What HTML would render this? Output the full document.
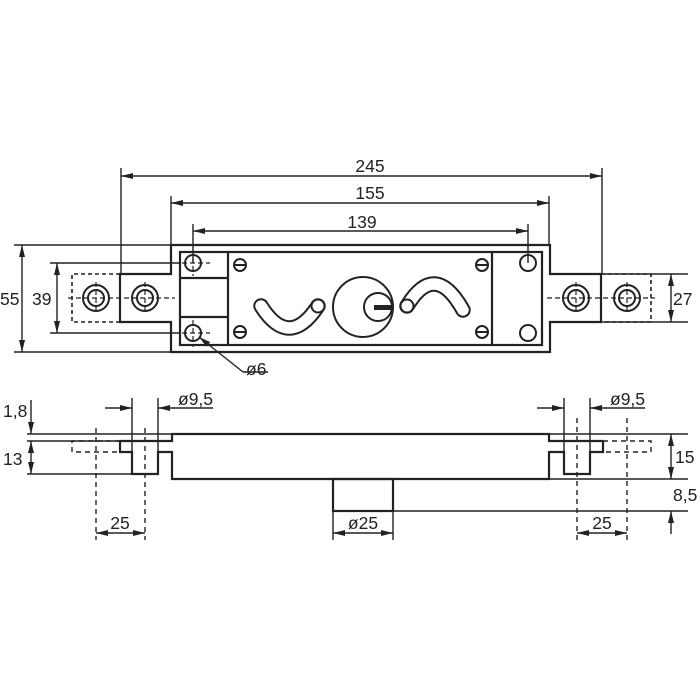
<!DOCTYPE html>
<html><head><style>body{margin:0;background:#fff}svg{display:block}</style></head><body>
<svg width="700" height="700" viewBox="0 0 700 700" xmlns="http://www.w3.org/2000/svg" font-family="Liberation Sans, sans-serif" font-size="17.5" fill="none" stroke="#222">
<defs>
<marker id="a" viewBox="0 0 12 6" refX="12" refY="3" markerWidth="12" markerHeight="6" orient="auto-start-reverse" markerUnits="userSpaceOnUse"><path d="M0,0L12,3L0,6z" fill="#222" stroke="none"/></marker>
</defs>
<g stroke-width="1.4">
<line x1="121" y1="168" x2="121" y2="274"/><line x1="602" y1="168" x2="602" y2="274"/>
<line x1="171" y1="196" x2="171" y2="245"/><line x1="549" y1="196" x2="549" y2="245"/>
<line x1="193" y1="224" x2="193" y2="263"/><line x1="528" y1="224" x2="528" y2="263"/>
<line x1="121" y1="176" x2="602" y2="176" marker-start="url(#a)" marker-end="url(#a)"/>
<line x1="171" y1="203" x2="549" y2="203" marker-start="url(#a)" marker-end="url(#a)"/>
<line x1="193" y1="231" x2="528" y2="231" marker-start="url(#a)" marker-end="url(#a)"/>
<line x1="14" y1="245" x2="171" y2="245"/><line x1="14" y1="352" x2="171" y2="352"/>
<line x1="50" y1="263" x2="180" y2="263"/><line x1="50" y1="333" x2="180" y2="333"/>
<line x1="22" y1="245" x2="22" y2="352" marker-start="url(#a)" marker-end="url(#a)"/>
<line x1="57" y1="263" x2="57" y2="333" marker-start="url(#a)" marker-end="url(#a)"/>
<line x1="601" y1="274" x2="688" y2="274"/><line x1="601" y1="322" x2="688" y2="322"/>
<line x1="671" y1="274" x2="671" y2="322" marker-start="url(#a)" marker-end="url(#a)"/>
</g>
<g fill="#222" stroke="none">
<text x="370" y="172" text-anchor="middle">245</text>
<text x="370" y="199" text-anchor="middle">155</text>
<text x="362" y="228" text-anchor="middle">139</text>
<text x="0" y="305">55</text>
<text x="32" y="305">39</text>
<text x="673" y="305">27</text>
<text x="246" y="375">ø6</text>
</g>
<g stroke-width="2.2">
<path d="M120,274H171V245H550V274H601V322H550V352H171V322H120Z"/>
<rect x="180" y="252" width="362" height="93"/>
<line x1="228" y1="252" x2="228" y2="345"/>
<line x1="180" y1="278" x2="228" y2="278"/><line x1="180" y1="317" x2="228" y2="317"/>
<line x1="492" y1="252" x2="492" y2="345"/>
</g>
<g stroke-width="1.6" stroke-dasharray="4,3">
<path d="M120,274H72V322H120"/><path d="M601,274H651V322H601"/>
</g>
<g stroke-width="1.2" stroke-dasharray="5,3">
<line x1="68" y1="298" x2="175" y2="298"/><line x1="547" y1="298" x2="655" y2="298"/>
<line x1="182" y1="263" x2="210" y2="263"/><line x1="182" y1="333" x2="210" y2="333"/>
<line x1="193" y1="250" x2="193" y2="276"/><line x1="193" y1="320" x2="193" y2="347"/>
<line x1="96" y1="282" x2="96" y2="314"/><line x1="145" y1="282" x2="145" y2="314"/>
<line x1="576" y1="282" x2="576" y2="314"/><line x1="627" y1="282" x2="627" y2="314"/>
</g>
<g stroke-width="2">
<circle cx="96" cy="298" r="13"/><circle cx="96" cy="298" r="8"/>
<circle cx="145" cy="298" r="13"/><circle cx="145" cy="298" r="8"/>
<circle cx="576" cy="298" r="13"/><circle cx="576" cy="298" r="8"/>
<circle cx="627" cy="298" r="13"/><circle cx="627" cy="298" r="8"/>
<circle cx="193" cy="263" r="8"/><circle cx="193" cy="333" r="8"/>
<circle cx="528" cy="263" r="8"/><circle cx="528" cy="333" r="8"/>
<circle cx="240" cy="265" r="6"/><line x1="234" y1="265" x2="246" y2="265"/>
<circle cx="240" cy="332" r="6"/><line x1="234" y1="332" x2="246" y2="332"/>
<circle cx="482" cy="265" r="6"/><line x1="476" y1="265" x2="488" y2="265"/>
<circle cx="482" cy="332" r="6"/><line x1="476" y1="332" x2="488" y2="332"/>
<circle cx="363" cy="307" r="30"/><circle cx="378" cy="307" r="14"/>
</g>
<rect x="374" y="305" width="19" height="5" fill="#222" stroke="none"/>
<path d="M261,306Q289,350 318,306" stroke-width="15.5" stroke-linecap="round"/>
<path d="M261,306Q289,350 318,306" stroke-width="11.5" stroke-linecap="round" stroke="#fff"/>
<circle cx="318" cy="306" r="6.5" stroke-width="2"/>
<path d="M407,306Q435,260 463,310" stroke-width="15.5" stroke-linecap="round"/>
<path d="M407,306Q435,260 463,310" stroke-width="11.5" stroke-linecap="round" stroke="#fff"/>
<circle cx="407" cy="306" r="6.5" stroke-width="2"/>
<line x1="243" y1="372" x2="199" y2="337" stroke-width="1.4" marker-end="url(#a)"/>
<line x1="243" y1="372" x2="268" y2="372" stroke-width="1.4"/>

<g stroke-width="1.4">
<line x1="27" y1="434" x2="172" y2="434"/><line x1="27" y1="441" x2="120" y2="441"/>
<line x1="27" y1="474" x2="132" y2="474"/>
<line x1="549" y1="434" x2="688" y2="434"/>
<line x1="549" y1="479" x2="688" y2="479"/>
<line x1="393" y1="511" x2="688" y2="511"/>
<line x1="132" y1="398" x2="132" y2="452"/><line x1="158" y1="398" x2="158" y2="452"/>
<line x1="564" y1="398" x2="564" y2="452"/><line x1="590" y1="398" x2="590" y2="452"/>
<line x1="105" y1="408" x2="132" y2="408" marker-end="url(#a)"/>
<line x1="213" y1="408" x2="158" y2="408" marker-end="url(#a)"/>
<line x1="537" y1="408" x2="564" y2="408" marker-end="url(#a)"/>
<line x1="645" y1="408" x2="590" y2="408" marker-end="url(#a)"/>
<line x1="31" y1="400" x2="31" y2="434" marker-end="url(#a)"/>
<line x1="31" y1="441" x2="31" y2="474" marker-start="url(#a)" marker-end="url(#a)"/>
<line x1="671" y1="434" x2="671" y2="479" marker-start="url(#a)" marker-end="url(#a)"/>
<line x1="671" y1="534" x2="671" y2="511" marker-end="url(#a)"/>
<line x1="333" y1="511" x2="333" y2="540"/><line x1="393" y1="511" x2="393" y2="540"/>
<line x1="333" y1="533" x2="393" y2="533" marker-start="url(#a)" marker-end="url(#a)"/>
<line x1="96" y1="533" x2="145" y2="533" marker-start="url(#a)" marker-end="url(#a)"/>
<line x1="577" y1="533" x2="627" y2="533" marker-start="url(#a)" marker-end="url(#a)"/>
</g>
<g stroke-width="2.2">
<path d="M172,434H549V441H603V452H590V474H564V452H549V479H172V452H158V474H132V452H120V441H172Z"/>
<rect x="333" y="479" width="60" height="32"/>
</g>
<g stroke-width="1.4" stroke-dasharray="5,4">
<line x1="96" y1="428" x2="96" y2="540"/><line x1="145" y1="428" x2="145" y2="540"/>
<line x1="577" y1="418" x2="577" y2="540"/><line x1="627" y1="418" x2="627" y2="540"/>
<path d="M120,441H72V452H120"/><path d="M603,441H651V452H603"/>
</g>
<g fill="#222" stroke="none">
<text x="3" y="417">1,8</text>
<text x="3" y="465">13</text>
<text x="178" y="405">ø9,5</text>
<text x="610" y="405">ø9,5</text>
<text x="675" y="463">15</text>
<text x="673" y="501">8,5</text>
<text x="120" y="529" text-anchor="middle">25</text>
<text x="602" y="529" text-anchor="middle">25</text>
<text x="363" y="529" text-anchor="middle">ø25</text>
</g>
</svg>
</body></html>
